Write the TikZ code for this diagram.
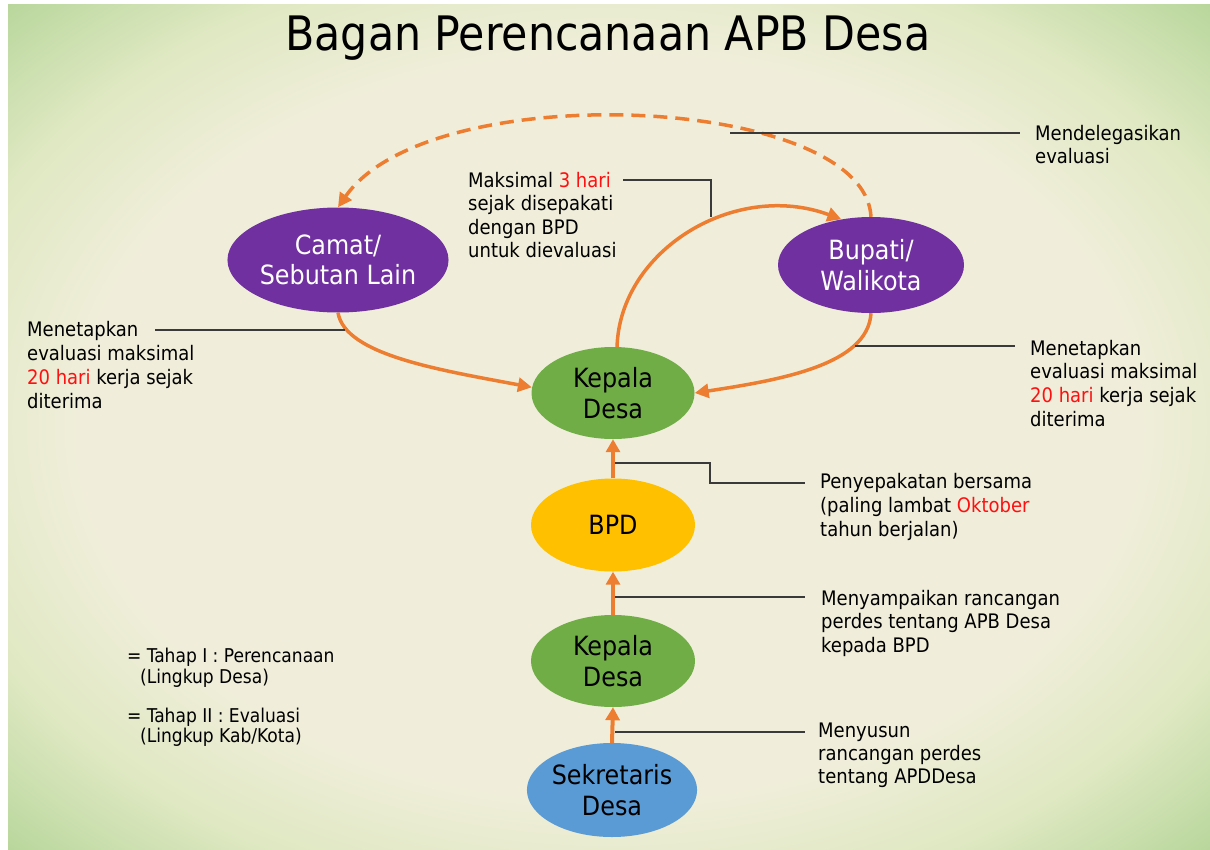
\documentclass[tikz,border=0pt]{standalone}
\usepackage{fontspec}
\setmainfont{DejaVu Sans Condensed}
\usetikzlibrary{arrows.meta,shapes.geometric}
\definecolor{bgc}{HTML}{F0EEDA}
\definecolor{bgm}{HTML}{DFE8C2}
\definecolor{bgg}{HTML}{B4D598}
\definecolor{orng}{HTML}{ED7D31}
\definecolor{purp}{HTML}{7030A0}
\definecolor{grn}{HTML}{70AD47}
\definecolor{yel}{HTML}{FFC000}
\definecolor{blu}{HTML}{5B9BD5}
\definecolor{redt}{HTML}{FF1010}
\definecolor{leadc}{HTML}{3A3A3A}
\pgfdeclareradialshading{bgshade}{\pgfpoint{0bp}{0bp}}{color(0bp)=(bgc);color(44bp)=(bgc);color(57bp)=(bgm);color(72bp)=(bgg)}
\tikzset{
  ell/.style={ellipse,inner sep=0pt,align=center,font=\fontsize{26.5}{30.5}\selectfont},
  arr/.style={draw=orng,line width=4pt,-{Triangle[length=13pt,width=14pt]}},
  carr/.style={draw=orng,line width=3.5pt,-{Triangle[length=14pt,width=14pt]}},
  darr/.style={carr,dash pattern=on 14pt off 8pt},
  leader/.style={draw=leadc,line width=1.1pt},
  lbl/.style={anchor=base west,inner sep=0pt,font=\fontsize{20}{24}\selectfont},
  leg/.style={anchor=base west,inner sep=0pt,font=\fontsize{19}{21}\selectfont}
}
\begin{document}
\begin{tikzpicture}[x=1pt,y=-1pt]
\useasboundingbox (0,0) rectangle (1210,849);
\fill[white] (0,0) rectangle (1210,849);
\begin{scope}
\clip (8,4) rectangle (1210,849);
\pgftransformshift{\pgfpointxy{609}{426.5}}
\pgftransformxscale{12.04}
\pgftransformyscale{8.45}
\pgflowlevelsynccm
\pgfuseshading{bgshade}
\end{scope}
% title
\node[anchor=base,inner sep=0pt,font=\fontsize{47.5}{50}\selectfont] (title) at (608,50) {Bagan Perencanaan APB Desa};
% nodes
\node[ell,fill=purp,text=white,minimum width=188pt,minimum height=105pt] (camat) at (338,260) {Camat/\\Sebutan Lain};
\node[ell,fill=purp,text=white,minimum width=186pt,minimum height=96pt] (bup) at (871,265) {Bupati/\\Walikota};
\node[ell,fill=grn,minimum width=163pt,minimum height=92pt] (kep1) at (613,393) {Kepala\\Desa};
\node[ell,fill=yel,minimum width=164pt,minimum height=93pt] (bpd) at (613,525) {BPD};
\node[ell,fill=grn,minimum width=164pt,minimum height=92pt] (kep2) at (613,661) {Kepala\\Desa};
\node[ell,fill=blu,minimum width=166pt,minimum height=94pt] (sek) at (612,790) {Sekretaris\\Desa};
% straight arrows
\draw[arr] (sek.north) -- (kep2.south);
\draw[arr] (kep2.north) -- (bpd.south);
\draw[arr] (bpd.north) -- (kep1.south);
% curved arrows
\draw[carr] (kep1.85) .. controls (620,250) and (735,180) .. (bup.123);
\draw[carr] (camat.south) .. controls (345,355) and (440,370) .. (kep1.176);
\draw[carr] (bup.south) .. controls (868,365) and (780,380) .. (kep1.east);
\draw[darr] (bup.north) .. controls (865,95) and (430,75) .. (camat.north);
% leader coordinates
\coordinate (a1) at (730,133); \coordinate (b1) at (1020,133);
\coordinate (a2) at (711,217); \coordinate (m2) at (711,180); \coordinate (b2) at (623,180);
\coordinate (a3) at (345,330); \coordinate (b3) at (155,330);
\coordinate (a4) at (855,346); \coordinate (b4) at (1015,346);
\coordinate (a5) at (615,463); \coordinate (m5) at (710,463); \coordinate (n5) at (710,483); \coordinate (b5) at (805,483);
\coordinate (a6) at (615,597); \coordinate (b6) at (805,597);
\coordinate (a7) at (615,732); \coordinate (b7) at (805,732);
\draw[leader] (a1) -- (b1);
\draw[leader] (b2) -- (m2) -- (a2);
\draw[leader] (b3) -- (a3);
\draw[leader] (a4) -- (b4);
\draw[leader] (a5) -- (m5) -- (n5) -- (b5);
\draw[leader] (a6) -- (b6);
\draw[leader] (a7) -- (b7);
% labels
\node[lbl] (t1) at (1035,140) {\vtop{\baselineskip=23pt\hbox{Mendelegasikan}\hbox{evaluasi}}};
\node[lbl] (t2) at (468,187) {\vtop{\baselineskip=23.5pt\hbox{Maksimal \textcolor{redt}{3 hari}}\hbox{sejak disepakati}\hbox{dengan BPD}\hbox{untuk dievaluasi}}};
\node[lbl] (t3) at (27,336) {\vtop{\baselineskip=24pt\hbox{Menetapkan}\hbox{evaluasi maksimal}\hbox{\textcolor{redt}{20 hari} kerja sejak}\hbox{diterima}}};
\node[lbl] (t4) at (1030,355) {\vtop{\baselineskip=23.7pt\hbox{Menetapkan}\hbox{evaluasi maksimal}\hbox{\textcolor{redt}{20 hari} kerja sejak}\hbox{diterima}}};
\node[lbl] (t5) at (820,488) {\vtop{\baselineskip=24pt\hbox{Penyepakatan bersama}\hbox{(paling lambat \textcolor{redt}{Oktober}}\hbox{tahun berjalan)}}};
\node[lbl] (t6) at (821,605) {\vtop{\baselineskip=23.5pt\hbox{Menyampaikan rancangan}\hbox{perdes tentang APB Desa}\hbox{kepada BPD}}};
\node[lbl] (t7) at (818,737) {\vtop{\baselineskip=23pt\hbox{Menyusun}\hbox{rancangan perdes}\hbox{tentang APDDesa}}};
% legend
\node[leg] (g1) at (127,662) {\vtop{\baselineskip=21pt\hbox{= Tahap I : Perencanaan}\hbox{\hspace{13pt}(Lingkup Desa)}}};
\node[leg] (g2) at (127,722) {\vtop{\baselineskip=20pt\hbox{= Tahap II : Evaluasi}\hbox{\hspace{13pt}(Lingkup Kab/Kota)}}};
\end{tikzpicture}
\end{document}
